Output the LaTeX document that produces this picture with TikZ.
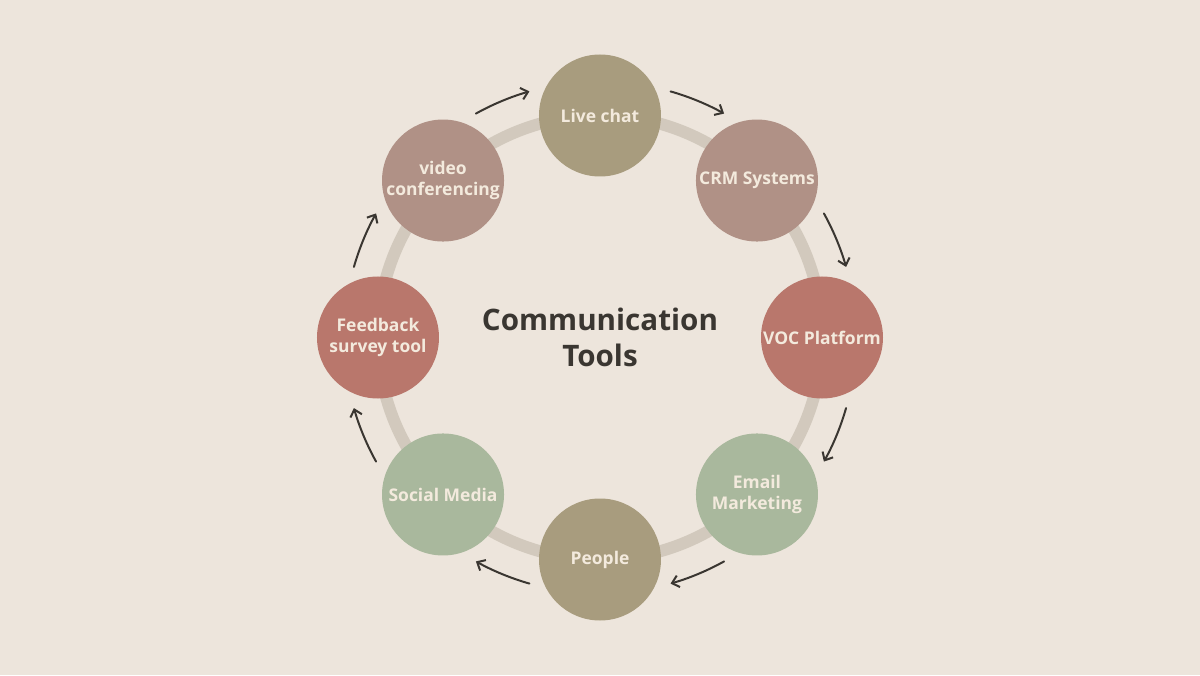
\documentclass[tikz,border=0pt]{standalone}
\usepackage{fontspec}
\setmainfont{Open Sans}
\usetikzlibrary{arrows.meta}
\definecolor{bg}{HTML}{EDE5DC}
\definecolor{ringc}{HTML}{D2C9BD}
\definecolor{olive}{HTML}{A89C7E}
\definecolor{mauve}{HTML}{B09186}
\definecolor{rust}{HTML}{B9776C}
\definecolor{sage}{HTML}{A9B89D}
\definecolor{cream}{HTML}{F3EADD}
\definecolor{ink}{HTML}{3A3631}
\tikzset{
  tool/.style={circle, minimum size=91.5pt, inner sep=0pt, text=cream,
    font=\bfseries\fontsize{13.1}{15.75}\selectfont, align=center},
  flow/.style={draw=ink, line width=1.5pt, line cap=round,
    -{Straight Barb[length=5pt,width=9pt,line width=1.5pt]}},
}
\begin{document}
\begin{tikzpicture}[x=0.75pt,y=0.75pt]
\useasboundingbox[fill=bg] (-600,-337.5) rectangle (600,337.5);
\draw[ringc, line width=9pt] (0,0) circle[radius=166.5pt];
\node[tool, fill=olive] (live) at (90:222) {Live chat};
\node[tool, fill=mauve] (crm) at (45:222) {CRM Systems};
\node[tool, fill=rust] (voc) at (0:222) {VOC Platform};
\node[tool, fill=sage] (email) at (-45:222) {Email\\Marketing};
\node[tool, fill=olive] (people) at (-90:222) {People};
\node[tool, fill=sage] (social) at (-135:222) {Social Media};
\node[tool, fill=rust] (feedback) at (180:222) {Feedback\\survey tool};
\node[tool, fill=mauve] (video) at (135:222) {video\\conferencing};
\node[text=ink, font=\bfseries\fontsize{22.2}{27}\selectfont, align=center] (title) at (0,0) {Communication\\Tools};
\foreach \m in {112.5,67.5,22.5,-22.5,-67.5,-112.5,-157.5,-202.5}{
  \draw[flow] (\m+6.5:256) arc[start angle=\m+6.5, end angle=\m-6.5, radius=192pt];
}
\end{tikzpicture}
\end{document}
